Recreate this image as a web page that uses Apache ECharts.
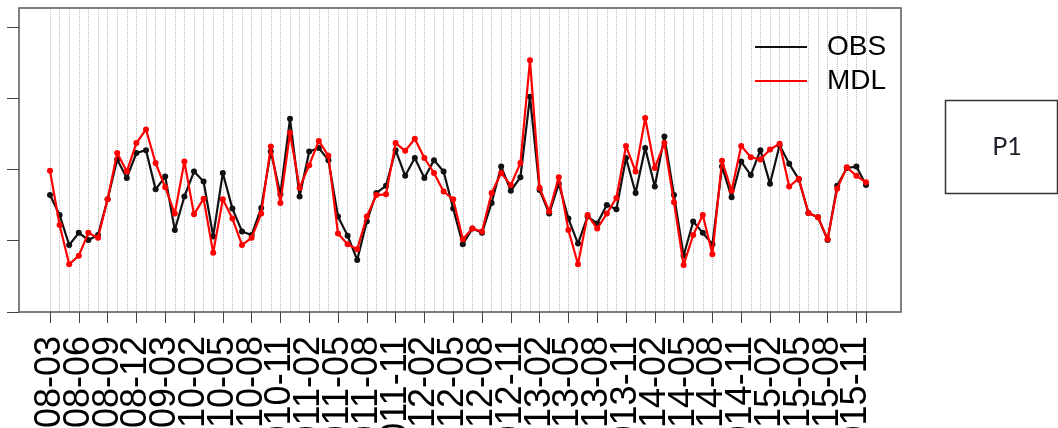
<!DOCTYPE html>
<html>
<head>
<meta charset="utf-8">
<script src="https://cdn.jsdelivr.net/npm/echarts@6/dist/echarts.min.js"></script>
<style>
html,body{margin:0;padding:0;background:#fff;}
#c{width:1058px;height:428px;}
</style>
</head>
<body>
<div id="c"></div>
<script>
const months = [
  '2008-03','2008-04','2008-05','2008-06','2008-07','2008-08','2008-09','2008-10','2008-11','2008-12',
  '2009-01','2009-02','2009-03','2009-12','2010-01',
  '2010-02','2010-03','2010-04','2010-05','2010-06','2010-07','2010-08','2010-09','2010-10','2010-11','2010-12',
  '2011-01','2011-02','2011-03','2011-04','2011-05','2011-06','2011-07','2011-08','2011-09','2011-10','2011-11','2011-12',
  '2012-01','2012-02','2012-03','2012-04','2012-05','2012-06','2012-07','2012-08','2012-09','2012-10','2012-11','2012-12',
  '2013-01','2013-02','2013-03','2013-04','2013-05','2013-06','2013-07','2013-08','2013-09','2013-10','2013-11','2013-12',
  '2014-01','2014-02','2014-03','2014-04','2014-05','2014-06','2014-07','2014-08','2014-09','2014-10','2014-11','2014-12',
  '2015-01','2015-02','2015-03','2015-04','2015-05','2015-06','2015-07','2015-08','2015-09','2015-10','2015-11','2015-12'
];
const obs = [
  1.64,1.36,0.94,1.11,1.01,1.08,1.58,2.14,1.88,2.23,
  2.27,1.72,1.90,1.15,1.62,1.97,1.83,1.06,1.95,1.45,
  1.13,1.08,1.46,2.25,1.65,2.71,1.62,2.25,2.30,2.13,
  1.34,1.07,0.73,1.27,1.67,1.77,2.27,1.91,2.16,1.88,
  2.13,1.97,1.45,0.95,1.17,1.11,1.53,2.04,1.70,1.89,
  3.02,1.71,1.38,1.80,1.31,0.96,1.34,1.24,1.50,1.44,
  2.16,1.67,2.30,1.76,2.46,1.64,0.79,1.27,1.11,0.95,
  2.04,1.61,2.11,1.92,2.27,1.80,2.34,2.08,1.86,1.39,
  1.33,1.01,1.77,2.02,2.04,1.78
];
const mdl = [
  1.98,1.22,0.67,0.79,1.11,1.04,1.58,2.23,1.97,2.37,
  2.56,2.09,1.75,1.38,2.11,1.37,1.59,0.83,1.58,1.31,
  0.94,1.04,1.38,2.32,1.53,2.51,1.74,2.06,2.40,2.19,
  1.10,0.95,0.88,1.34,1.64,1.65,2.37,2.26,2.43,2.16,
  1.95,1.69,1.58,1.02,1.17,1.13,1.67,1.95,1.78,2.09,
  3.53,1.74,1.41,1.89,1.15,0.67,1.36,1.17,1.38,1.60,
  2.33,1.97,2.72,2.02,2.37,1.54,0.66,1.08,1.36,0.81,
  2.12,1.70,2.33,2.17,2.14,2.28,2.36,1.76,1.87,1.39,
  1.33,1.02,1.73,2.03,1.91,1.82
];
const yTicks = [0,1,2,3,4];
const seriesNames = ['OBS','MDL'];
const panelLabel = 'P1';
const labelEvery = 3;

const chart = echarts.init(document.getElementById('c'), null, {renderer:'canvas'});
const yMax = 4.264;
chart.setOption({
  animation: false,
  backgroundColor: '#fff',
  grid: [
    {left: 50, right: 192, top: 8, bottom: 116, outerBoundsMode: 'none', containLabel: false},
    {left: 19, right: 157, top: 8, bottom: 116, outerBoundsMode: 'none', containLabel: false, show: true, borderColor: '#555', borderWidth: 1.5, backgroundColor: 'transparent', z: 5}
  ],
  xAxis: [
    {
      type: 'category', gridIndex: 0, data: months, boundaryGap: false,
      axisLine: {show: false},
      axisTick: {show: true, interval: labelEvery - 1, length: 11, lineStyle: {color: '#444', width: 1}},
      axisLabel: {
        show: true, interval: 0, rotate: 90, margin: 24, hideOverlap: false,
        fontSize: 36, color: '#000', fontFamily: 'Liberation Sans, Arial, sans-serif',
        formatter: function (v, i) { return i % labelEvery === 0 ? v : ''; }
      },
      splitLine: {show: true, interval: 0, lineStyle: {type: 'dotted', color: '#bdbdbd', width: 1}}
    },
    {type: 'value', gridIndex: 1, show: false, min: 0, max: 1}
  ],
  yAxis: [
    {type: 'value', gridIndex: 0, min: 0, max: yMax, show: false, splitLine: {show: false}},
    {
      type: 'value', gridIndex: 1, min: 0, max: yMax,
      axisLine: {show: false},
      axisTick: {show: true, customValues: yTicks, length: 12, lineStyle: {color: '#444', width: 1}},
      axisLabel: {show: false},
      splitLine: {show: false}
    }
  ],
  legend: {
    data: seriesNames, orient: 'vertical', left: 750, top: 27,
    icon: 'rect', itemWidth: 52, itemHeight: 2, itemGap: 4,
    textStyle: {fontSize: 28, lineHeight: 30, color: '#000', fontFamily: 'Liberation Sans, Arial, sans-serif', padding: [0,0,0,15]}
  },
  series: [
    {
      name: seriesNames[0], type: 'line', xAxisIndex: 0, yAxisIndex: 0, data: obs,
      symbol: 'circle', symbolSize: 6, showSymbol: true,
      lineStyle: {color: '#111', width: 2.2}, itemStyle: {color: '#111'}, z: 3
    },
    {
      name: seriesNames[1], type: 'line', xAxisIndex: 0, yAxisIndex: 0, data: mdl,
      symbol: 'circle', symbolSize: 6, showSymbol: true,
      lineStyle: {color: '#ff0000', width: 2.2}, itemStyle: {color: '#ff0000'}, z: 4
    }
  ],
  graphic: [
    {type: 'rect', shape: {x: 945.5, y: 100.5, width: 112, height: 93}, style: {fill: '#fff', stroke: '#333', lineWidth: 1.5}},
    {type: 'text', x: 1007, y: 147, style: {text: panelLabel, fontSize: 25, fill: '#1f1f2a', align: 'center', verticalAlign: 'middle', fontFamily: 'Lato, Liberation Sans, sans-serif'}}
  ]
});
</script>
</body>
</html>
